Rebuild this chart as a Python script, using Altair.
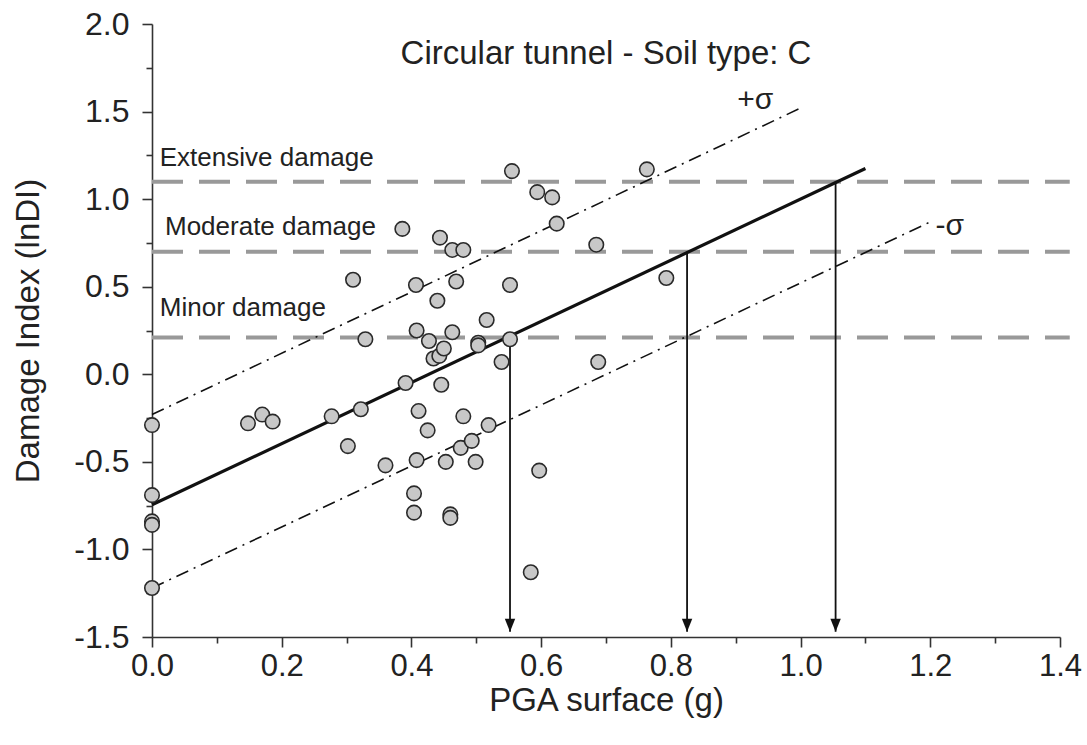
import altair as alt
import pandas as pd

# ---- data ----
pga = [0.000, 0.000, 0.000, 0.000, 0.000, 0.148, 0.170, 0.186, 0.277, 0.302,
       0.310, 0.322, 0.329, 0.360, 0.386, 0.391, 0.404, 0.404, 0.407, 0.408,
       0.408, 0.411, 0.425, 0.427, 0.434, 0.443, 0.440, 0.444, 0.446, 0.450,
       0.453, 0.460, 0.460, 0.463, 0.463, 0.469, 0.476, 0.480, 0.480, 0.493,
       0.499, 0.503, 0.503, 0.516, 0.519, 0.539, 0.552, 0.552, 0.555, 0.584,
       0.594, 0.597, 0.617, 0.624, 0.685, 0.688, 0.763, 0.793]
lndi = [-0.29, -0.69, -0.84, -0.86, -1.22, -0.28, -0.23, -0.27, -0.24, -0.41,
        0.54, -0.20, 0.20, -0.52, 0.83, -0.05, -0.68, -0.79, 0.51, 0.25,
        -0.49, -0.21, -0.32, 0.19, 0.09, 0.105, 0.42, 0.78, -0.06, 0.147,
        -0.50, -0.80, -0.82, 0.71, 0.24, 0.53, -0.42, 0.71, -0.24, -0.38,
        -0.50, 0.18, 0.165, 0.31, -0.29, 0.07, 0.51, 0.20, 1.16, -1.13,
        1.04, -0.55, 1.01, 0.86, 0.74, 0.07, 1.17, 0.55]

threshold_levels = [1.10, 0.70, 0.21]
threshold_names = ["Extensive damage", "Moderate damage", "Minor damage"]
threshold_x_end = 1.415

fit_x = [0.0, 1.10]
fit_y = [-0.745, 1.175]
plus_x = [0.0, 1.0]
plus_y = [-0.23, 1.52]
minus_x = [0.0, 1.2]
minus_y = [-1.22, 0.87]

arrow_x = [1.054, 0.825, 0.552]
arrow_top = [1.10, 0.70, 0.21]
arrow_bottom = -1.47

label_x = [0.012, 0.02, 0.012]
label_y = [1.235, 0.84, 0.38]
sigma_text = ["+σ", "-σ"]
sigma_x = [0.93, 1.23]
sigma_y = [1.565, 0.845]
title_text = "Circular tunnel - Soil type: C"
title_x = [0.70]
title_y = [1.83]

x_major = [0.0, 0.2, 0.4, 0.6, 0.8, 1.0, 1.2, 1.4]
x_minor = [0.1, 0.3, 0.5, 0.7, 0.9, 1.1, 1.3]
y_major = [-1.5, -1.0, -0.5, 0.0, 0.5, 1.0, 1.5, 2.0]
y_minor = [-1.25, -0.75, -0.25, 0.25, 0.75, 1.25, 1.75]

FONT = "Liberation Sans"
INK = "#222222"

# ---- tables ----
pts = pd.DataFrame({"x": pga, "y": lndi})
thr = pd.DataFrame({"x": [0.0] * 3, "x2": [threshold_x_end] * 3, "y": threshold_levels})
fit = pd.DataFrame({"x": fit_x, "y": fit_y})
sig = pd.DataFrame({"x": plus_x + minus_x, "y": plus_y + minus_y,
                    "band": ["plus", "plus", "minus", "minus"]})
arr = pd.DataFrame({"x": arrow_x, "y": arrow_top, "y2": [arrow_bottom] * 3})
lab = pd.DataFrame({"x": label_x, "y": label_y, "t": threshold_names})
sgl = pd.DataFrame({"x": sigma_x, "y": sigma_y, "t": sigma_text})
ttl = pd.DataFrame({"x": title_x, "y": title_y, "t": [title_text]})
mnx = pd.DataFrame({"x": x_minor})
mny = pd.DataFrame({"y": y_minor})

minus_fix = "replace(format(datum.value, '.1f'), '\u2212', '-')"

xs = alt.Scale(domain=[0, 1.4], nice=False, zero=False)
ys = alt.Scale(domain=[-1.5, 2.0], nice=False, zero=False)

x_axis = alt.Axis(values=x_major, labelExpr=minus_fix, title="PGA surface (g)",
                  tickSize=10, tickWidth=1.6, tickColor="#333", domainColor="#333",
                  domainWidth=1.6, grid=False, labelFont=FONT, labelFontSize=31,
                  labelColor=INK, labelPadding=4, titleFont=FONT, titleFontSize=33,
                  titleFontWeight="normal", titleColor=INK, titlePadding=3,
                  labelFlush=False, orient="bottom")
y_axis = alt.Axis(values=y_major, labelExpr=minus_fix, title="Damage Index (lnDI)",
                  tickSize=10, tickWidth=1.6, tickColor="#333", domainColor="#333",
                  domainWidth=1.6, grid=False, labelFont=FONT, labelFontSize=32,
                  labelColor=INK, labelPadding=13, titleFont=FONT, titleFontSize=33,
                  titleFontWeight="normal", titleColor=INK, titlePadding=28,
                  labelFlush=False, orient="left")

X = lambda f="x": alt.X(f"{f}:Q", scale=xs, axis=x_axis)
Y = lambda f="y": alt.Y(f"{f}:Q", scale=ys, axis=y_axis)

thr_layer = alt.Chart(thr).mark_rule(color="#999999", strokeWidth=4,
                                     strokeDash=[31, 16]).encode(x=X(), x2="x2:Q", y=Y())
sig_layer = alt.Chart(sig).mark_line(color="#111111", strokeWidth=1.6,
                                     strokeDash=[13, 6, 2, 6]).encode(x=X(), y=Y(), detail="band:N")
fit_layer = alt.Chart(fit).mark_line(color="#111111", strokeWidth=3.2).encode(x=X(), y=Y())
arr_layer = alt.Chart(arr).mark_rule(color="#111111", strokeWidth=1.8).encode(x=X(), y=Y(), y2="y2:Q")
head_layer = alt.Chart(arr).mark_point(shape="M-0.4,-1L0.4,-1L0,0Z", size=676, filled=True,
                                       color="#111111", opacity=1).encode(x=X(), y=Y("y2"))
pt_layer = alt.Chart(pts).mark_circle(size=210, color="#c8c8c8", stroke="#2a2a2a",
                                      strokeWidth=1.6, opacity=1).encode(x=X(), y=Y())
lab_layer = alt.Chart(lab).mark_text(align="left", baseline="middle", font=FONT,
                                     fontSize=26, color=INK).encode(x=X(), y=Y(), text="t:N")
sig_text = alt.Chart(sgl).mark_text(align="center", baseline="middle", font=FONT,
                                    fontSize=30, color=INK).encode(x=X(), y=Y(), text="t:N")
ttl_layer = alt.Chart(ttl).mark_text(align="center", baseline="middle", font=FONT,
                                     fontSize=33, color=INK).encode(x=X(), y=Y(), text="t:N")

main = alt.layer(thr_layer, sig_layer, fit_layer, arr_layer, head_layer, pt_layer,
                 lab_layer, sig_text, ttl_layer)

minor_x = alt.Chart(mnx).mark_point(opacity=0).encode(
    x=alt.X("x:Q", scale=xs, axis=alt.Axis(values=x_minor, labels=False, domain=False,
                                           grid=False, tickSize=6, tickWidth=1.6,
                                           tickColor="#333", title=None, orient="bottom")))
minor_y = alt.Chart(mny).mark_point(opacity=0).encode(
    y=alt.Y("y:Q", scale=ys, axis=alt.Axis(values=y_minor, labels=False, domain=False,
                                           grid=False, tickSize=6, tickWidth=1.6,
                                           tickColor="#333", title=None, orient="left")))

chart = alt.layer(main, minor_x, minor_y).resolve_axis(x="independent", y="independent").properties(
    width=908, height=613,
    autosize=alt.AutoSizeParams(type="none"),
    padding={"left": 152, "top": 24, "right": 27, "bottom": 108},
    background="white",
).configure_view(stroke=None)

chart.save("out.html", embed_options={"renderer": "svg", "actions": False})
